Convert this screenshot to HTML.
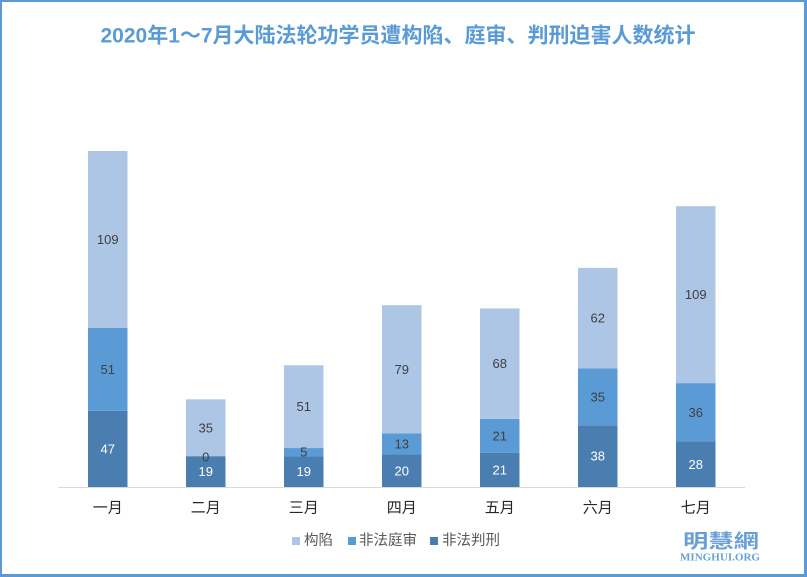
<!DOCTYPE html>
<html>
<head>
<meta charset="utf-8">
<style>
html,body{margin:0;padding:0;background:#fff;}
svg{display:block;}
</style>
</head>
<body>
<svg width="807" height="577" viewBox="0 0 807 577" xmlns="http://www.w3.org/2000/svg">
<rect x="0" y="0" width="807" height="577" fill="#ffffff"/>
<!-- border -->
<rect x="0" y="0" width="807" height="2" fill="#5b9bd5"/>
<rect x="0" y="0" width="2" height="577" fill="#5b9bd5"/>
<rect x="804" y="0" width="3" height="577" fill="#5b9bd5"/>
<rect x="0" y="574" width="807" height="3" fill="#5b9bd5"/>

<text x="398" y="36" text-anchor="middle" dominant-baseline="central" font-family="'Liberation Sans','Noto Sans CJK SC',sans-serif" font-size="21" font-weight="bold" fill="#5b9bd5" textLength="595" lengthAdjust="spacingAndGlyphs">2020年1～7月大陆法轮功学员遭构陷、庭审、判刑迫害人数统计</text>

<!-- axis -->
<rect x="58" y="487" width="687" height="1" fill="#d9d9d9"/>

<g id="bars">
<!-- Jan -->
<rect x="88" y="410.71" width="39.5" height="76.29" fill="#4a7eb0"/>
<rect x="88" y="327.93" width="39.5" height="82.78" fill="#5b9bd5"/>
<rect x="88" y="151" width="39.5" height="176.93" fill="#adc6e5"/>
<!-- Feb -->
<rect x="186" y="456.16" width="39.5" height="30.84" fill="#4a7eb0"/>
<rect x="186" y="399.35" width="39.5" height="56.81" fill="#adc6e5"/>
<!-- Mar -->
<rect x="284" y="456.16" width="39.5" height="30.84" fill="#4a7eb0"/>
<rect x="284" y="448.04" width="39.5" height="8.12" fill="#5b9bd5"/>
<rect x="284" y="365.26" width="39.5" height="82.78" fill="#adc6e5"/>
<!-- Apr -->
<rect x="382" y="454.54" width="39.5" height="32.46" fill="#4a7eb0"/>
<rect x="382" y="433.43" width="39.5" height="21.11" fill="#5b9bd5"/>
<rect x="382" y="305.2" width="39.5" height="128.23" fill="#adc6e5"/>
<!-- May -->
<rect x="480" y="452.91" width="39.5" height="34.09" fill="#4a7eb0"/>
<rect x="480" y="418.83" width="39.5" height="34.08" fill="#5b9bd5"/>
<rect x="480" y="308.45" width="39.5" height="110.38" fill="#adc6e5"/>
<!-- Jun -->
<rect x="578" y="425.32" width="39.5" height="61.68" fill="#4a7eb0"/>
<rect x="578" y="368.51" width="39.5" height="56.81" fill="#5b9bd5"/>
<rect x="578" y="267.87" width="39.5" height="100.64" fill="#adc6e5"/>
<!-- Jul -->
<rect x="676" y="441.55" width="39.5" height="45.45" fill="#4a7eb0"/>
<rect x="676" y="383.12" width="39.5" height="58.43" fill="#5b9bd5"/>
<rect x="676" y="206.19" width="39.5" height="176.93" fill="#adc6e5"/>
</g>

<g font-family="'Liberation Sans',sans-serif" font-size="13" text-anchor="middle" dominant-baseline="central">
<g fill="#ffffff">
<text x="107.75" y="449">47</text>
<text x="205.75" y="471.6">19</text>
<text x="303.75" y="471.6">19</text>
<text x="401.75" y="470.8">20</text>
<text x="499.75" y="470">21</text>
<text x="597.75" y="456.2">38</text>
<text x="695.75" y="464.3">28</text>
</g>
<g fill="#404040">
<text x="107.75" y="369.3">51</text>
<text x="107.75" y="239.5">109</text>
<text x="205.75" y="457">0</text>
<text x="205.75" y="427.75">35</text>
<text x="303.75" y="452.1">5</text>
<text x="303.75" y="406.65">51</text>
<text x="401.75" y="444">13</text>
<text x="401.75" y="369.3">79</text>
<text x="499.75" y="435.9">21</text>
<text x="499.75" y="363.6">68</text>
<text x="597.75" y="396.9">35</text>
<text x="597.75" y="318.2">62</text>
<text x="695.75" y="412.3">36</text>
<text x="695.75" y="294.65">109</text>
</g>
</g>

<g font-family="'Liberation Sans','Noto Sans CJK SC',sans-serif" font-size="15" fill="#262626" text-anchor="middle" dominant-baseline="central">
<text x="107.75" y="508">一月</text>
<text x="205.75" y="508">二月</text>
<text x="303.75" y="508">三月</text>
<text x="401.75" y="508">四月</text>
<text x="499.75" y="508">五月</text>
<text x="597.75" y="508">六月</text>
<text x="695.75" y="508">七月</text>
</g>

<!-- legend -->
<g font-family="'Liberation Sans','Noto Sans CJK SC',sans-serif" font-size="14.5" fill="#595959" dominant-baseline="central">
<rect x="292" y="537" width="8" height="8" fill="#adc6e5"/>
<text x="304" y="541">构陷</text>
<rect x="348" y="537" width="8" height="8" fill="#5b9bd5"/>
<text x="359" y="541">非法庭审</text>
<rect x="430" y="537" width="8" height="8" fill="#4a7eb0"/>
<text x="442" y="541">非法判刑</text>
</g>

<!-- watermark -->
<text x="683" y="540" dominant-baseline="central" font-family="'Noto Sans CJK TC','Noto Sans CJK SC',sans-serif" font-size="19" font-weight="bold" fill="#6a9fd6" textLength="76" lengthAdjust="spacingAndGlyphs">明慧網</text>
<text x="680" y="558" dominant-baseline="central" font-family="'Liberation Serif',serif" font-size="10" font-weight="bold" fill="#6a9fd6" textLength="80" lengthAdjust="spacingAndGlyphs">MINGHUI.ORG</text>
</svg>
</body>
</html>
